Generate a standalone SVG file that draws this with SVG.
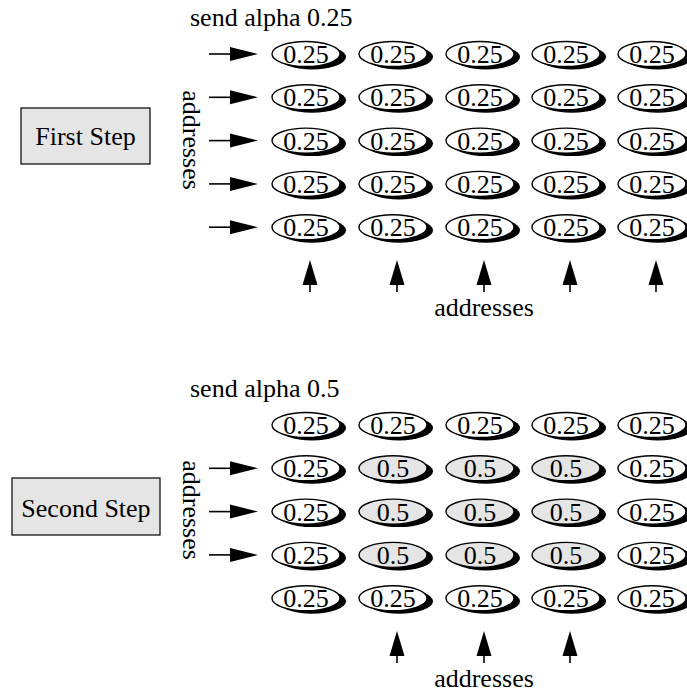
<svg xmlns="http://www.w3.org/2000/svg" width="687" height="694" viewBox="0 0 687 694">
<style>
text{font-family:"Liberation Serif","Times New Roman",serif;font-size:26px;fill:#000}
.c{text-anchor:middle}
.sh{fill:#000}
.e{fill:#fff;stroke:#000;stroke-width:1.4}
.g{fill:#e5e5e5;stroke:#000;stroke-width:1.4}
.box{fill:#e5e5e5;stroke:#000;stroke-width:1.2}
.ln{stroke:#000;stroke-width:1.6;fill:none}
.hd{fill:#000}
</style>
<defs>
<g id="ov"><ellipse class="sh" cx="6" cy="3" rx="34" ry="12.5"/><ellipse class="e" cx="0" cy="0" rx="34" ry="12.5"/><text class="c" x="0" y="9">0.25</text></g>
<g id="og"><ellipse class="sh" cx="6" cy="3" rx="34" ry="12.5"/><ellipse class="g" cx="0" cy="0" rx="34" ry="12.5"/><text class="c" x="0" y="9">0.5</text></g>
<g id="ra"><line class="ln" x1="209" y1="0" x2="232" y2="0"/><polygon class="hd" points="230,-7 258,0 230,7"/></g>
<g id="ua"><line class="ln" x1="0" y1="292" x2="0" y2="283"/><polygon class="hd" points="-7.5,285 0,260 7.5,285"/></g>
</defs>

<g id="step1">
<rect class="box" x="21" y="108" width="129" height="56"/>
<text class="c" x="85.5" y="145">First Step</text>
</g>
<g id="step2">
<rect class="box" x="12" y="478" width="148" height="57"/>
<text class="c" x="86" y="517">Second Step</text>
</g>

<g id="labels">
<text x="190" y="26">send alpha 0.25</text>
<text x="190" y="397">send alpha 0.5</text>
<text class="c" transform="translate(183,140) rotate(90)">addresses</text>
<text class="c" transform="translate(183,510) rotate(90)">addresses</text>
<text class="c" x="484" y="316">addresses</text>
<text class="c" x="484" y="687">addresses</text>
</g>

<g id="grid1">
<use href="#ov" x="306" y="54"/><use href="#ov" x="393" y="54"/><use href="#ov" x="480" y="54"/><use href="#ov" x="566" y="54"/><use href="#ov" x="652" y="54"/>
<use href="#ov" x="306" y="97.3"/><use href="#ov" x="393" y="97.3"/><use href="#ov" x="480" y="97.3"/><use href="#ov" x="566" y="97.3"/><use href="#ov" x="652" y="97.3"/>
<use href="#ov" x="306" y="140.6"/><use href="#ov" x="393" y="140.6"/><use href="#ov" x="480" y="140.6"/><use href="#ov" x="566" y="140.6"/><use href="#ov" x="652" y="140.6"/>
<use href="#ov" x="306" y="183.9"/><use href="#ov" x="393" y="183.9"/><use href="#ov" x="480" y="183.9"/><use href="#ov" x="566" y="183.9"/><use href="#ov" x="652" y="183.9"/>
<use href="#ov" x="306" y="227.2"/><use href="#ov" x="393" y="227.2"/><use href="#ov" x="480" y="227.2"/><use href="#ov" x="566" y="227.2"/><use href="#ov" x="652" y="227.2"/>
</g>

<g id="grid2">
<use href="#ov" x="306" y="425"/><use href="#ov" x="393" y="425"/><use href="#ov" x="480" y="425"/><use href="#ov" x="566" y="425"/><use href="#ov" x="652" y="425"/>
<use href="#ov" x="306" y="468.3"/><use href="#og" x="393" y="468.3"/><use href="#og" x="480" y="468.3"/><use href="#og" x="566" y="468.3"/><use href="#ov" x="652" y="468.3"/>
<use href="#ov" x="306" y="511.6"/><use href="#og" x="393" y="511.6"/><use href="#og" x="480" y="511.6"/><use href="#og" x="566" y="511.6"/><use href="#ov" x="652" y="511.6"/>
<use href="#ov" x="306" y="554.9"/><use href="#og" x="393" y="554.9"/><use href="#og" x="480" y="554.9"/><use href="#og" x="566" y="554.9"/><use href="#ov" x="652" y="554.9"/>
<use href="#ov" x="306" y="598.2"/><use href="#ov" x="393" y="598.2"/><use href="#ov" x="480" y="598.2"/><use href="#ov" x="566" y="598.2"/><use href="#ov" x="652" y="598.2"/>
</g>

<g id="connectors">
<use href="#ra" y="54"/><use href="#ra" y="97.3"/><use href="#ra" y="140.6"/><use href="#ra" y="183.9"/><use href="#ra" y="227.2"/>
<use href="#ua" x="310"/><use href="#ua" x="397"/><use href="#ua" x="484"/><use href="#ua" x="570"/><use href="#ua" x="656"/>
<use href="#ra" y="468.3"/><use href="#ra" y="511.6"/><use href="#ra" y="554.9"/>
<use href="#ua" x="397" y="371"/><use href="#ua" x="484" y="371"/><use href="#ua" x="570" y="371"/>
</g>
</svg>
